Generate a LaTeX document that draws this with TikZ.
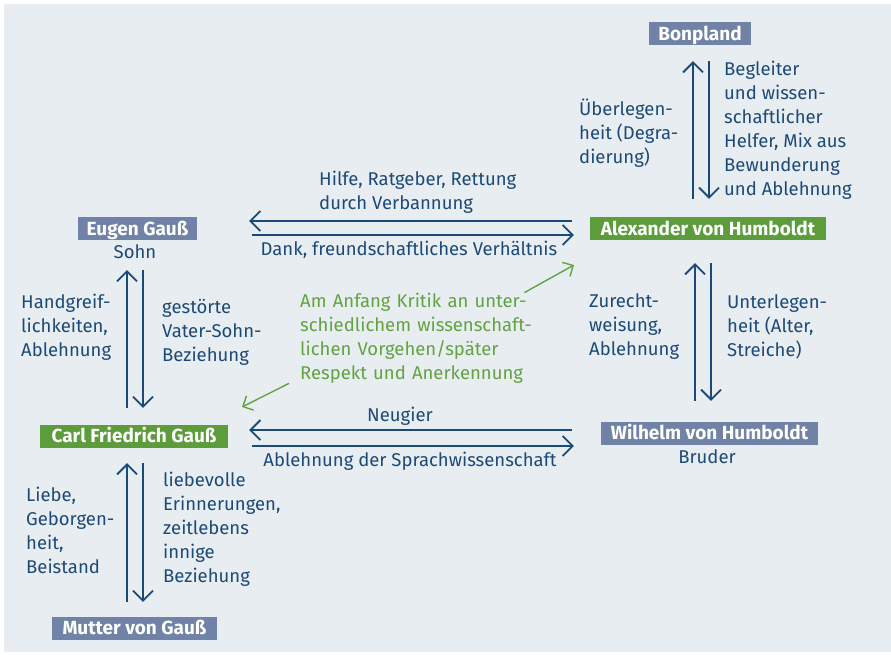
\documentclass[tikz,border=0pt]{standalone}
\usepackage{fontspec}
\setmainfont{Fira Sans}
\usetikzlibrary{arrows.meta,calc,positioning}
\definecolor{tintenblau}{rgb}{0.11,0.29,0.47}
\definecolor{graublau}{rgb}{0.44,0.51,0.65}
\definecolor{blattgruen}{rgb}{0.36,0.61,0.23}
\definecolor{notizgruen}{rgb}{0.38,0.64,0.25}
\definecolor{hellgrau}{rgb}{0.91,0.93,0.95}
\tikzset{
  person/.style={
    fill=graublau,
    text=white,
    font=\fontsize{19}{22}\selectfont\bfseries,
    minimum height=23pt,
    text height=16pt,
    text depth=3pt,
    inner xsep=4pt,
    inner ysep=0pt
  },
  hauptperson/.style={
    person,
    fill=blattgruen
  },
  rolle/.style={
    text=tintenblau,
    font=\fontsize{18.5}{24}\selectfont,
    inner sep=0pt
  },
  beziehung/.style={
    text=tintenblau,
    align=left,
    font=\fontsize{18.5}{24}\selectfont,
    inner sep=0pt,
    anchor=west
  },
  notiz/.style={
    text=notizgruen,
    align=left,
    text width=236pt,
    font=\fontsize{18.5}{24}\selectfont,
    inner sep=0pt,
    anchor=west
  },
  pfeil/.style={
    -{Straight Barb[length=10pt,width=20pt]},
    line width=1.8pt,
    tintenblau
  },
  hinweis/.style={
    -{Straight Barb[length=8pt,width=16pt]},
    line width=1.4pt,
    notizgruen
  }
}
\begin{document}
\begin{tikzpicture}[x=1pt,y=-1pt]
\useasboundingbox (0,0) rectangle (891,655);
\fill[hellgrau] (4,4) rectangle (891,652);
\node[person, minimum width=102pt] (bonpland) at (700,34) {Bonpland};
\node[hauptperson, minimum width=236pt] (alexander) at (708,228.5) {Alexander von Humboldt};
\node[person, minimum width=119pt] (eugen) at (137.5,228.5) {Eugen Gauß};
\node[rolle] (sohn) at (135,252) {Sohn};
\node[hauptperson, minimum width=188pt] (carl) at (134,436) {Carl Friedrich Gauß};
\node[person, minimum width=217pt] (wilhelm) at (709.5,433) {Wilhelm von Humboldt};
\node[rolle] (bruder) at (707,457) {Bruder};
\node[person, minimum width=165pt] (mutter) at (134.5,628) {Mutter von Gauß};
\node[beziehung] (bonA) at (579,133) {Überlegen-\\heit (Degra-\\dierung)};
\node[beziehung] (bonB) at (724,130) {Begleiter\\und wissen-\\schaftlicher\\Helfer, Mix aus\\Bewunderung\\und Ablehnung};
\node[beziehung] (eugalA) at (319,192) {Hilfe, Ratgeber, Rettung\\durch Verbannung};
\node[rolle] (eugalB) at (409,250) {Dank, freundschaftliches Verhältnis};
\node[beziehung] (eugcaA) at (21,327) {Handgreif-\\lichkeiten,\\Ablehnung};
\node[beziehung] (eugcaB) at (162,332) {gestörte\\Vater-Sohn-\\Beziehung};
\node[rolle] (cawiA) at (400,416) {Neugier};
\node[rolle] (cawiB) at (410,461) {Ablehnung der Sprachwissenschaft};
\node[beziehung] (alwiA) at (589,327) {Zurecht-\\weisung,\\Ablehnung};
\node[beziehung] (alwiB) at (727,327) {Unterlegen-\\heit (Alter,\\Streiche)};
\node[beziehung] (camuA) at (26,530.5) {Liebe,\\Geborgen-\\heit,\\Beistand};
\node[beziehung] (camuB) at (163,529) {liebevolle\\Erinnerungen,\\zeitlebens\\innige\\Beziehung};
\node[notiz] (notiz) at (300,338) {Am Anfang Kritik an unter-\\schiedlichem wissenschaft-\\lichen Vorgehen/später\\Respekt und Anerkennung};
\coordinate (kritikziel) at (574,265);
\coordinate (respektziel) at (242,407);
\draw[pfeil, shorten <=18pt, shorten >=15.5pt] ([xshift=-15pt]alexander.north) -- ([xshift=-7pt]bonpland.south);
\draw[pfeil, shorten <=15.5pt, shorten >=18pt] ([xshift=9pt]bonpland.south) -- ([xshift=1pt]alexander.north);
\draw[pfeil, shorten <=18pt, shorten >=52pt] ([yshift=7.5pt]alexander.west) -- ([yshift=7.5pt]eugen.east);
\draw[pfeil, shorten <=55pt, shorten >=16pt] ([yshift=-6.5pt]eugen.east) -- ([yshift=-6.5pt]alexander.west);
\draw[pfeil, shorten <=20.5pt, shorten >=23pt] ([xshift=-14.5pt]wilhelm.north) -- ([xshift=-13pt]alexander.south);
\draw[pfeil, shorten <=23pt, shorten >=20.5pt] ([xshift=3pt]alexander.south) -- ([xshift=1.5pt]wilhelm.north);
\draw[pfeil, shorten <=16.5pt, shorten >=30pt] ([xshift=-7pt]carl.north) -- ([xshift=-10.5pt]eugen.south);
\draw[pfeil, shorten <=30pt, shorten >=16.5pt] ([xshift=5.5pt]eugen.south) -- ([xshift=9pt]carl.north);
\draw[pfeil, shorten <=29pt, shorten >=21pt] ([yshift=3pt]wilhelm.west) -- ([yshift=6pt]carl.east);
\draw[pfeil, shorten <=24pt, shorten >=27pt] ([yshift=-10pt]carl.east) -- ([yshift=-13pt]wilhelm.west);
\draw[pfeil, shorten <=14.5pt, shorten >=15.5pt] ([xshift=-7.5pt]mutter.north) -- ([xshift=-7pt]carl.south);
\draw[pfeil, shorten <=15.5pt, shorten >=14.5pt] ([xshift=9pt]carl.south) -- ([xshift=8.5pt]mutter.north);
\draw[hinweis] ([xshift=-12pt]notiz.north east) -- (kritikziel);
\draw[hinweis] ([xshift=-11pt]notiz.south west) -- (respektziel);
\end{tikzpicture}
\end{document}
